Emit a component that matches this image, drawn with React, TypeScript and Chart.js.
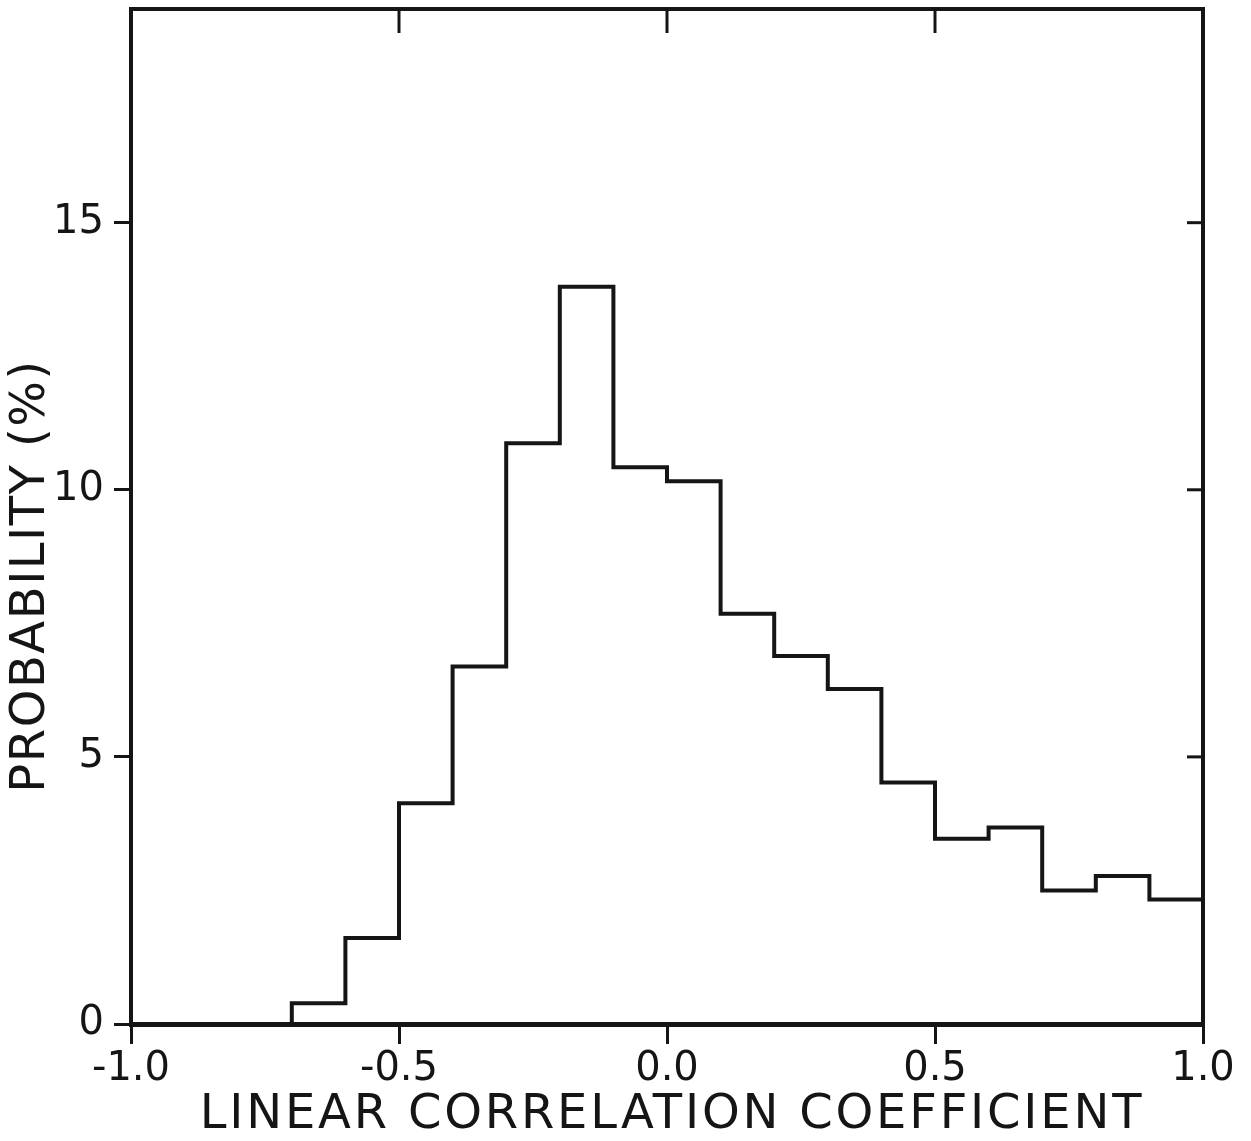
import React, { useEffect, useRef } from 'react';
import { Chart, registerables } from 'chart.js';

Chart.register(...registerables);

// Histogram bins (left edges) of the linear correlation coefficient
const binStarts = [-1.0, -0.9, -0.8, -0.7, -0.6, -0.5, -0.4, -0.3, -0.2, -0.1, 0.0, 0.1, 0.2, 0.3, 0.4, 0.5, 0.6, 0.7, 0.8, 0.9];
const binEnd = 1.0;
// Probability (%) per bin
const probability = [0, 0, 0, 0.39, 1.61, 4.13, 6.69, 10.87, 13.8, 10.42, 10.16, 7.68, 6.89, 6.27, 4.52, 3.47, 3.68, 2.5, 2.77, 2.33];

const xTicks = [-1.0, -0.5, 0.0, 0.5, 1.0];
const yTicks = [0, 5, 10, 15];
const xMin = -1.0;
const xMax = 1.0;
const yMin = 0;
const yMax = 19;

const xTitle = 'LINEAR CORRELATION COEFFICIENT';
const yTitle = 'PROBABILITY (%)';

const INK = '#151515';
const FONT = '"DejaVu Sans", "Liberation Sans", sans-serif';

// Inward tick marks on the top and right frame, plus the two axis titles
const framePlugin = {
  id: 'frameExtras',
  afterDraw(chart: any) {
    const { ctx, chartArea } = chart;
    const xs = chart.scales.x;
    const ys = chart.scales.y;
    ctx.save();
    ctx.strokeStyle = INK;
    ctx.lineWidth = 3;
    ctx.lineCap = 'butt';
    xTicks.forEach((v) => {
      if (v <= xMin || v >= xMax) return;
      const px = xs.getPixelForValue(v);
      ctx.beginPath();
      ctx.moveTo(px, chartArea.top);
      ctx.lineTo(px, chartArea.top + 24);
      ctx.stroke();
    });
    yTicks.forEach((v) => {
      if (v <= yMin) return;
      const py = ys.getPixelForValue(v);
      ctx.beginPath();
      ctx.moveTo(chartArea.right, py);
      ctx.lineTo(chartArea.right - 16, py);
      ctx.stroke();
    });

    ctx.fillStyle = INK;
    ctx.font = `48px ${FONT}`;
    ctx.textAlign = 'center';
    ctx.textBaseline = 'middle';
    (ctx as any).letterSpacing = '2.8px';
    ctx.fillText(xTitle, (chartArea.left + chartArea.right) / 2 + 5, 1116);

    (ctx as any).letterSpacing = '1.5px';
    ctx.translate(32, 576);
    ctx.rotate(-Math.PI / 2);
    ctx.fillText(yTitle, 0, 0);
    ctx.restore();
  },
};

const noVerticalMargins = (scale: any) => {
  scale.paddingTop = 0;
  scale.paddingBottom = 0;
};

export default function App() {
  const canvasRef = useRef<HTMLCanvasElement | null>(null);

  useEffect(() => {
    document.body.style.margin = '0';
    const canvas = canvasRef.current;
    if (!canvas) return;

    const points = binStarts.map((x, i) => ({ x, y: probability[i] }));
    points.push({ x: binEnd, y: probability[probability.length - 1] });

    const chart = new Chart(canvas, {
      type: 'line',
      data: {
        datasets: [
          {
            data: points,
            stepped: 'before',
            borderColor: INK,
            borderWidth: 4,
            pointRadius: 0,
            fill: false,
            tension: 0,
            xAxisID: 'x',
            yAxisID: 'y',
          },
        ],
      },
      plugins: [framePlugin],
      options: {
        responsive: false,
        animation: false,
        events: [],
        layout: { padding: { top: 9, right: 48, left: 0, bottom: 0 } },
        plugins: {
          legend: { display: false },
          tooltip: { enabled: false },
          title: { display: false },
        },
        scales: {
          x: {
            type: 'linear',
            position: 'bottom',
            min: xMin,
            max: xMax,
            afterBuildTicks: (scale: any) => {
              scale.ticks = xTicks.map((v) => ({ value: v }));
            },
            afterFit: (scale: any) => {
              scale.height = 117;
            },
            ticks: {
              color: INK,
              font: { family: FONT, size: 40 },
              padding: 2,
              maxRotation: 0,
              autoSkip: false,
              callback: (v: any) => Number(v).toFixed(1),
            },
            grid: {
              display: true,
              drawOnChartArea: false,
              drawTicks: true,
              tickLength: 20,
              lineWidth: 3,
              color: INK,
            },
            border: { display: true, width: 5, color: INK },
          },
          xTop: {
            type: 'linear',
            position: 'top',
            min: xMin,
            max: xMax,
            ticks: { display: false },
            grid: { display: true, drawOnChartArea: false, drawTicks: false, lineWidth: 0 },
            border: { display: true, width: 4, color: INK },
            afterFit: (scale: any) => {
              scale.height = 0;
            },
          },
          y: {
            type: 'linear',
            position: 'left',
            min: yMin,
            max: yMax,
            afterBuildTicks: (scale: any) => {
              scale.ticks = yTicks.map((v) => ({ value: v }));
            },
            afterFit: (scale: any) => {
              scale.width = 131;
              noVerticalMargins(scale);
            },
            ticks: {
              color: INK,
              font: { family: FONT, size: 40 },
              padding: 10,
              autoSkip: false,
              callback: (v: any) => String(v),
            },
            grid: {
              display: true,
              drawOnChartArea: false,
              drawTicks: true,
              tickLength: 17,
              lineWidth: 3,
              color: INK,
            },
            border: { display: true, width: 4, color: INK },
          },
          yRight: {
            type: 'linear',
            position: 'right',
            min: yMin,
            max: yMax,
            ticks: { display: false },
            grid: { display: true, drawOnChartArea: false, drawTicks: false, lineWidth: 0 },
            border: { display: true, width: 4, color: INK },
            afterFit: (scale: any) => {
              scale.width = 0;
              noVerticalMargins(scale);
            },
          },
        },
      },
    } as any);

    return () => {
      chart.destroy();
    };
  }, []);

  return (
    <div style={{ position: 'relative', width: 1251, height: 1141, background: '#fff' }}>
      <canvas ref={canvasRef} width={1251} height={1141} style={{ display: 'block' }} />
    </div>
  );
}
